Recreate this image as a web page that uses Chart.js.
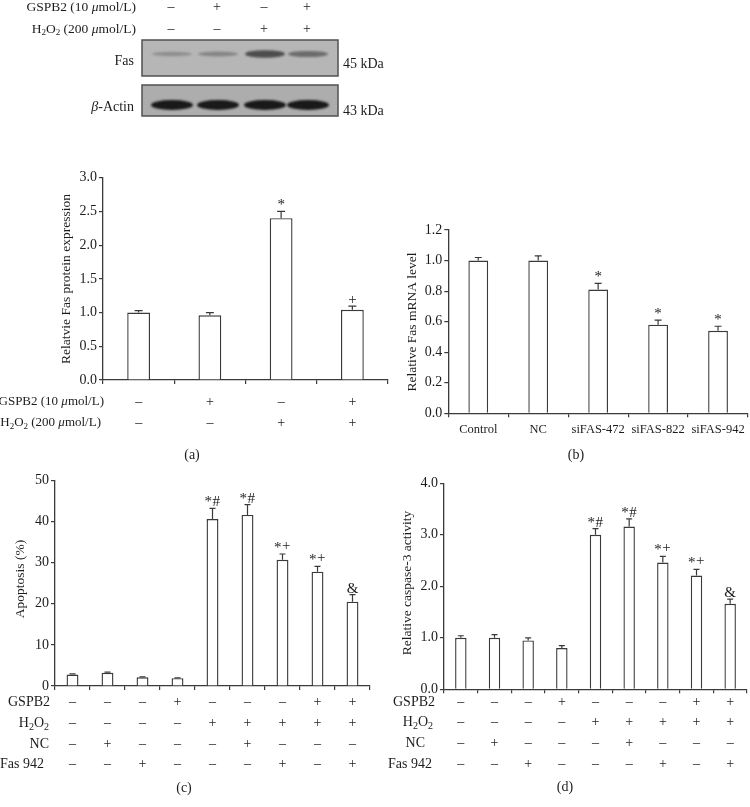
<!DOCTYPE html>
<html>
<head>
<meta charset="utf-8">
<title>GSPB2 / Fas figure</title>
<script src="https://cdn.jsdelivr.net/npm/chart.js@4.4.1/dist/chart.umd.min.js"></script>
<style>
    html, body { margin: 0; padding: 0; background: #fff; }
    #page { position: relative; width: 750px; height: 807px; overflow: hidden; }
    canvas { position: absolute; }
</style>
</head>
<body>
<div id="page">
    <canvas id="blot" width="400" height="125" style="left:0px;top:0px"></canvas>
    <canvas id="panelA" width="395" height="335" style="left:0px;top:135px"></canvas>
    <canvas id="panelB" width="355" height="335" style="left:395px;top:135px"></canvas>
    <canvas id="panelC" width="380" height="337" style="left:0px;top:470px"></canvas>
    <canvas id="panelD" width="370" height="337" style="left:380px;top:470px"></canvas>
</div>
<script>
// Data
const blotLanes = ['1', '2', '3', '4'];
const blotGspb2 = ['–', '+', '–', '+'];
const blotH2o2 = ['–', '–', '+', '+'];
const fasBandIntensity = [0.3, 0.38, 0.9, 0.62];
const actinBandIntensity = [1, 1, 1, 1];

const proteinGroups = ['Control', 'GSPB2', 'H2O2', 'GSPB2 + H2O2'];
const proteinValues = [1.00, 0.96, 2.40, 1.04];
const proteinErrors = [0.03, 0.04, 0.10, 0.055];
const proteinMarks = ['', '', '*', '+'];
const proteinTicks = [0, 0.5, 1.0, 1.5, 2.0, 2.5, 3.0];
const proteinGspb2 = ['–', '+', '–', '+'];
const proteinH2o2 = ['–', '–', '+', '+'];

const mrnaGroups = ['Control', 'NC', 'siFAS-472', 'siFAS-822', 'siFAS-942'];
const mrnaValues = [1.00, 1.00, 0.81, 0.58, 0.54];
const mrnaErrors = [0.02, 0.03, 0.04, 0.03, 0.03];
const mrnaMarks = ['', '', '*', '*', '*'];
const mrnaTicks = [0, 0.2, 0.4, 0.6, 0.8, 1.0, 1.2];

const treatGroups = ['1', '2', '3', '4', '5', '6', '7', '8', '9'];
const treatGspb2 = ['–', '–', '–', '+', '–', '–', '–', '+', '+'];
const treatH2o2 = ['–', '–', '–', '–', '+', '+', '+', '+', '+'];
const treatNc = ['–', '+', '–', '–', '–', '+', '–', '–', '–'];
const treatFas942 = ['–', '–', '+', '–', '–', '–', '+', '–', '+'];
const treatMarks = ['', '', '', '', '*#', '*#', '*+', '*+', '&'];

const apoptosisValues = [2.8, 3.2, 2.1, 1.9, 40.6, 41.6, 30.7, 27.8, 20.5];
const apoptosisErrors = [0.15, 0.15, 0.1, 0.1, 2.6, 2.5, 1.4, 1.3, 1.7];
const apoptosisTicks = [0, 10, 20, 30, 40, 50];

const caspaseValues = [1.00, 1.00, 0.95, 0.80, 3.00, 3.16, 2.46, 2.21, 1.66];
const caspaseErrors = [0.04, 0.06, 0.05, 0.05, 0.12, 0.15, 0.12, 0.12, 0.09];
const caspaseTicks = [0, 1.0, 2.0, 3.0, 4.0];

// Styling
const FAMILY = '"Liberation Serif", "Times New Roman", serif';
const FONT_SIZE = 14;
const INK = '#1c1c1c';
const AXIS = '#3a3a3a';

// Rich text helpers (subscript 2, italic greek letters)
function parseRich(str) {
    const segs = [];
    for (const ch of str) {
        let style = 'n';
        let t = ch;
        if (ch === '₂') { style = 's'; t = '2'; }
        else if (ch === 'μ' || ch === 'β') style = 'i';
        const last = segs[segs.length - 1];
        if (last && last.style === style) last.t += t;
        else segs.push({ t, style });
    }
    return segs;
}

function fontFor(style, size) {
    if (style === 's') return `${Math.round(size * 0.68)}px ${FAMILY}`;
    if (style === 'i') return `italic ${size}px ${FAMILY}`;
    return `${size}px ${FAMILY}`;
}

function drawRich(ctx, str, x, y, align, size = FONT_SIZE) {
    const segs = parseRich(str);
    let w = 0;
    segs.forEach(s => {
        ctx.font = fontFor(s.style, size);
        s.w = ctx.measureText(s.t).width;
        w += s.w;
    });
    let cx = align === 'right' ? x - w : align === 'center' ? x - w / 2 : x;
    ctx.textAlign = 'left';
    ctx.textBaseline = 'middle';
    ctx.fillStyle = INK;
    segs.forEach(s => {
        ctx.font = fontFor(s.style, size);
        ctx.fillText(s.t, cx, s.style === 's' ? y + size * 0.3 : y);
        cx += s.w;
    });
}

// Significance marks: the "+" after a star sits level with it
function drawMark(ctx, mark, x, y) {
    ctx.font = `15px ${FAMILY}`;
    ctx.fillStyle = INK;
    ctx.textAlign = 'left';
    ctx.textBaseline = 'alphabetic';
    const chars = [...mark];
    const widths = chars.map(c => ctx.measureText(c).width + (chars.length > 1 ? 0.5 : 0));
    let cx = x - widths.reduce((s, w) => s + w, 0) / 2;
    chars.forEach((c, i) => {
        const lift = (c === '+' && i > 0) ? 2.5 : 0;
        ctx.fillText(c, cx, y - lift);
        cx += widths[i];
    });
}

// Western blot strip
function drawBlot() {
    const ctx = document.getElementById('blot').getContext('2d');
    const laneX = [171, 217, 264, 307];

    drawRich(ctx, 'GSPB2 (10 μmol/L)', 136, 7, 'right', 13.5);
    drawRich(ctx, 'H₂O₂ (200 μmol/L)', 136, 29, 'right', 13.5);
    blotLanes.forEach((lane, i) => {
        drawRich(ctx, blotGspb2[i], laneX[i], 7, 'center');
        drawRich(ctx, blotH2o2[i], laneX[i], 29, 'center');
    });

    // boxes
    const boxes = [
        { top: 40, bottom: 76, fill: '#b6b6b6', bandY: 54, label: 'Fas', labelY: 61, kda: '45 kDa', kdaY: 64 },
        { top: 85, bottom: 116, fill: '#adadad', bandY: 105, label: 'β-Actin', labelY: 107, kda: '43 kDa', kdaY: 111 }
    ];
    boxes.forEach(b => {
        ctx.fillStyle = b.fill;
        ctx.fillRect(142, b.top, 196, b.bottom - b.top);
        ctx.strokeStyle = '#505050';
        ctx.lineWidth = 1.5;
        ctx.strokeRect(142, b.top, 196, b.bottom - b.top);
        drawRich(ctx, b.label, 134, b.labelY, 'right');
        drawRich(ctx, b.kda, 343, b.kdaY, 'left');
    });

    // bands
    ctx.save();
    ctx.filter = 'blur(1.3px)';
    fasBandIntensity.forEach((v, i) => {
        const g = Math.round(175 - v * 110);
        ctx.fillStyle = `rgb(${g},${g},${g})`;
        const h = 3 + v * 5;
        ctx.beginPath();
        ctx.ellipse(laneX[i] + 1, boxes[0].bandY, 20, h / 2, 0, 0, Math.PI * 2);
        ctx.fill();
    });
    actinBandIntensity.forEach((v, i) => {
        const g = Math.round(50 - v * 25);
        ctx.fillStyle = `rgb(${g},${g},${g})`;
        ctx.beginPath();
        ctx.ellipse(laneX[i] + 1, boxes[1].bandY, 21, 5, 0, 0, Math.PI * 2);
        ctx.fill();
    });
    ctx.restore();
}

// Error bars, marks, treatment rows, titles
const decorPlugin = {
    id: 'decor',
    afterDatasetsDraw(chart, args, opts) {
        const ctx = chart.ctx;
        const xs = chart.scales.x;
        const ys = chart.scales.y;
        const values = chart.data.datasets[0].data;
        ctx.save();
        ctx.strokeStyle = AXIS;
        ctx.lineWidth = 1.2;
        chart.getDatasetMeta(0).data.forEach((bar, i) => {
            const top = ys.getPixelForValue(values[i] + opts.errors[i]);
            ctx.beginPath();
            ctx.moveTo(bar.x, bar.y);
            ctx.lineTo(bar.x, top);
            ctx.moveTo(bar.x - opts.cap, top);
            ctx.lineTo(bar.x + opts.cap, top);
            ctx.stroke();
            if (opts.marks[i]) drawMark(ctx, opts.marks[i], bar.x, top - 2);
        });

        (opts.rows || []).forEach(row => {
            drawRich(ctx, row.label, row.labelX, row.y, 'right', row.size || FONT_SIZE);
            row.signs.forEach((s, i) => drawRich(ctx, s, xs.getPixelForValue(i), row.y, 'center'));
        });

        ctx.save();
        ctx.translate(opts.yTitle.x, opts.yTitle.y);
        ctx.rotate(-Math.PI / 2);
        drawRich(ctx, opts.yTitle.text, 0, 0, 'center', 13.5);
        ctx.restore();

        drawRich(ctx, opts.letter.text, opts.letter.x, opts.letter.y, 'center');
        ctx.restore();
    }
};

function buildPanel(id, cfg) {
    const canvas = document.getElementById(id);
    const W = canvas.width;
    const H = canvas.height;
    const a = cfg.area;
    return new Chart(canvas, {
        type: 'bar',
        data: {
            labels: cfg.labels,
            datasets: [{
                data: cfg.values,
                backgroundColor: '#fff',
                borderColor: AXIS,
                borderWidth: 1.4,
                categoryPercentage: 1,
                barPercentage: cfg.barPct
            }]
        },
        options: {
            responsive: false,
            animation: false,
            layout: { padding: { left: 0, top: a.top, right: W - a.right, bottom: 0 } },
            plugins: {
                legend: { display: false },
                tooltip: { enabled: false },
                decor: cfg.decor
            },
            scales: {
                x: {
                    afterFit: s => { s.height = H - a.bottom; },
                    border: { color: AXIS, width: 1.3 },
                    grid: { offset: true, drawOnChartArea: false, tickLength: 4, color: AXIS, lineWidth: 1.2 },
                    ticks: {
                        display: !!cfg.showX,
                        color: INK,
                        font: { family: FAMILY, size: 12.5 },
                        padding: 5,
                        maxRotation: 0,
                        autoSkip: false
                    }
                },
                y: {
                    min: cfg.ticks[0],
                    max: cfg.ticks[cfg.ticks.length - 1],
                    afterFit: s => { s.width = a.left; },
                    afterBuildTicks: s => { s.ticks = cfg.ticks.map(v => ({ value: v })); },
                    border: { color: AXIS, width: 1.3 },
                    grid: { drawOnChartArea: false, tickLength: 4, color: AXIS, lineWidth: 1.2 },
                    ticks: {
                        color: INK,
                        font: { family: FAMILY, size: FONT_SIZE },
                        padding: 2,
                        callback: v => cfg.fmt(v)
                    }
                }
            }
        },
        plugins: [decorPlugin]
    });
}

document.addEventListener('DOMContentLoaded', () => {
    drawBlot();

    // (a) Fas protein
    buildPanel('panelA', {
        labels: proteinGroups,
        values: proteinValues,
        ticks: proteinTicks,
        fmt: v => v.toFixed(1),
        area: { left: 103, top: 42.7, right: 388, bottom: 245 },
        barPct: 0.32,
        decor: {
            errors: proteinErrors,
            marks: proteinMarks,
            cap: 4,
            rows: [
                { label: 'GSPB2 (10 μmol/L)', labelX: 104, y: 267, size: 13, signs: proteinGspb2 },
                { label: 'H₂O₂ (200 μmol/L)', labelX: 101, y: 288, size: 13, signs: proteinH2o2 }
            ],
            yTitle: { text: 'Relatvie Fas protein expression', x: 66, y: 144 },
            letter: { text: '(a)', x: 192, y: 320 }
        }
    });

    // (b) Fas mRNA
    buildPanel('panelB', {
        labels: mrnaGroups,
        values: mrnaValues,
        ticks: mrnaTicks,
        fmt: v => v.toFixed(1),
        area: { left: 53.3, top: 95, right: 353, bottom: 278.3 },
        barPct: 0.33,
        showX: true,
        decor: {
            errors: mrnaErrors,
            marks: mrnaMarks,
            cap: 3.5,
            yTitle: { text: 'Relative Fas mRNA level', x: 17, y: 187 },
            letter: { text: '(b)', x: 181, y: 320 }
        }
    });

    // (c) Apoptosis
    buildPanel('panelC', {
        labels: treatGroups,
        values: apoptosisValues,
        ticks: apoptosisTicks,
        fmt: v => String(Math.round(v)),
        area: { left: 55, top: 9, right: 370, bottom: 216 },
        barPct: 0.34,
        decor: {
            errors: apoptosisErrors,
            marks: treatMarks,
            cap: 3,
            rows: [
                { label: 'GSPB2', labelX: 50, y: 232, signs: treatGspb2 },
                { label: 'H₂O₂', labelX: 49, y: 253, signs: treatH2o2 },
                { label: 'NC', labelX: 49, y: 274, signs: treatNc },
                { label: 'Fas 942', labelX: 44, y: 294, signs: treatFas942 }
            ],
            yTitle: { text: 'Apoptosis (%)', x: 20, y: 109 },
            letter: { text: '(c)', x: 184, y: 318 }
        }
    });

    // (d) Caspase-3 activity
    buildPanel('panelD', {
        labels: treatGroups,
        values: caspaseValues,
        ticks: caspaseTicks,
        fmt: v => v.toFixed(1),
        area: { left: 64, top: 13.3, right: 367, bottom: 219.3 },
        barPct: 0.34,
        decor: {
            errors: caspaseErrors,
            marks: treatMarks,
            cap: 3,
            rows: [
                { label: 'GSPB2', labelX: 55, y: 232, signs: treatGspb2 },
                { label: 'H₂O₂', labelX: 53, y: 252, signs: treatH2o2 },
                { label: 'NC', labelX: 45, y: 273, signs: treatNc },
                { label: 'Fas 942', labelX: 52, y: 294, signs: treatFas942 }
            ],
            yTitle: { text: 'Relative caspase-3 activity', x: 27, y: 113 },
            letter: { text: '(d)', x: 185, y: 317 }
        }
    });
});
</script>
</body>
</html>
